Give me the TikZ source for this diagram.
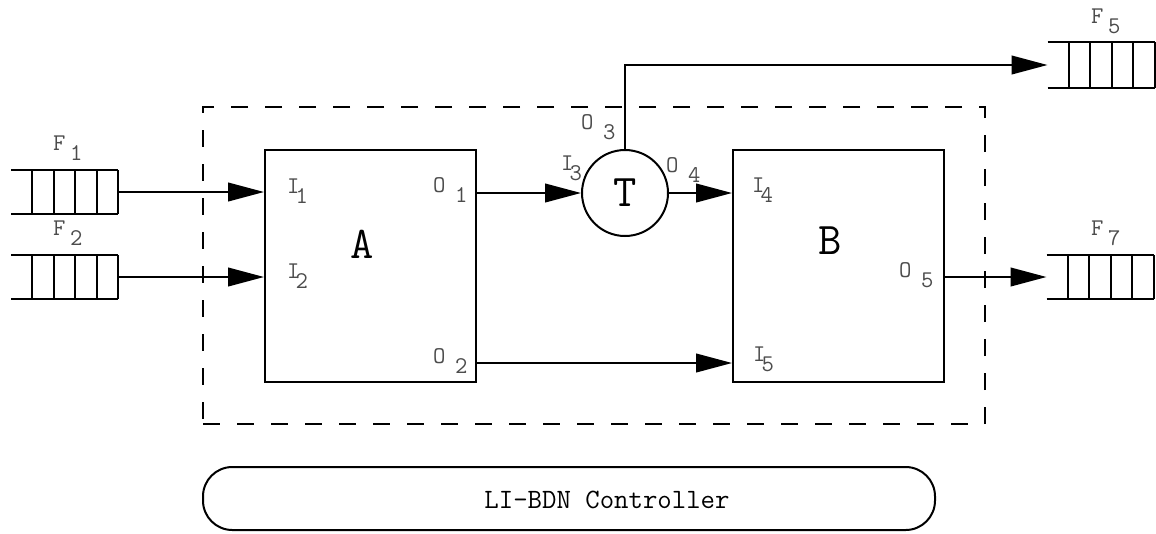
\documentclass[tikz,border=0pt]{standalone}
\usepackage{fontspec}
\usetikzlibrary{arrows.meta,calc,positioning}
\tikzset{>={Triangle[length=27pt,width=14pt]}, % long solid arrow heads
every node/.style={inner sep=0pt}, % labels sit where they are put
}
% letter with its index set lower, at a given offset
\newcommand{\subl}[3]{\makebox[#3][l]{#1}\raisebox{-7.5pt}{#2}}

\begin{document}
\begin{tikzpicture}[x=0.75pt,y=-0.75pt,line width=1.5pt,
	blk/.style={draw, minimum width=158.25pt, minimum height=174pt},
	queue/.style={minimum width=78.75pt, minimum height=31.5pt},
	lbl/.style={anchor=base west, text=black!70, font=\ttfamily\fontsize{18}{18}\selectfont},
	big/.style={font=\ttfamily\fontsize{34}{34}\selectfont}]
\useasboundingbox (0,0) rectangle (1156,533);
% blocks
\node[blk] (A) at (370.5,266) {};
\node[blk, right=191.25pt of A] (B) {};
\node[big] (a) at (362,244) {A};
\node[big] (b) at (830,241) {B};
\node[draw, circle, minimum size=64.5pt, big] (T) at (625,193) {T};
\node[draw, dash pattern=on 12.75pt off 12.75pt, minimum width=586.5pt, minimum height=237.75pt] (W) at (594,265.5) {};
% controller
\node[draw, rounded corners=22pt, minimum width=549pt, minimum height=47.25pt] (C) at (569,498.5) {};
\node[font=\ttfamily\fontsize{21}{21}\selectfont] (ctl) at (607,500) {LI-BDN Controller};
% fifos
\node[queue] (F1) at (64.5,192) {};
\node[queue] (F2) at (64.5,277) {};
\node[queue, minimum height=33pt] (F5) at (1101,65) {};
\node[queue] (F7) at (1100,277) {};
\foreach \q in {F1,F2,F5,F7} {
	\draw (\q.north west) -- (\q.north east) (\q.south west) -- (\q.south east);
	\foreach \k in {1,...,5}
		\draw ($(\q.north west)!\k/5!(\q.north east)$) -- ($(\q.south west)!\k/5!(\q.south east)$);
}
% port names
\node[lbl] (f1) at (52,150) {\subl{F}{1}{12.75pt}};
\node[lbl] (f2) at (52,235) {\subl{F}{2}{12.75pt}};
\node[lbl] (f5) at (1090,23) {\subl{F}{5}{12.75pt}};
\node[lbl] (f7) at (1090,235) {\subl{F}{7}{12.75pt}};
\node[lbl] (i1) at (286,193) {\subl{I}{1}{6.4pt}};
\node[lbl] (i2) at (286,278) {\subl{I}{2}{6.4pt}};
\node[lbl] (i3) at (560,170) {\subl{I}{3}{6.4pt}};
\node[lbl] (i4) at (751,192) {\subl{I}{4}{6.4pt}};
\node[lbl] (i5) at (752,361) {\subl{I}{5}{6.4pt}};
\node[lbl] (o1) at (432,192) {\subl{O}{1}{16.5pt}};
\node[lbl] (o2) at (432,363) {\subl{O}{2}{16.5pt}};
\node[lbl] (o3) at (580,129) {\subl{O}{3}{16.5pt}};
\node[lbl] (o4) at (665,172) {\subl{O}{4}{16.5pt}};
\node[lbl] (o5) at (898,277) {\subl{O}{5}{16.5pt}};
% data paths
\draw[->] (F1.east) -- (F1.east -| A.west);
\draw[->] (F2.east) -- (F2.east -| A.west);
\draw[->] (T.west -| A.east) -- (T.west);
\draw[->] (T.east) -- (T.east -| B.west);
\draw[->] ($(A.south east)+(0,-20)$) -- ($(B.south west)+(0,-20)$);
\draw[->] (T.north) |- (F5.west);
\draw[->] (F7.west -| B.east) -- (F7.west);
\end{tikzpicture}
\end{document}
